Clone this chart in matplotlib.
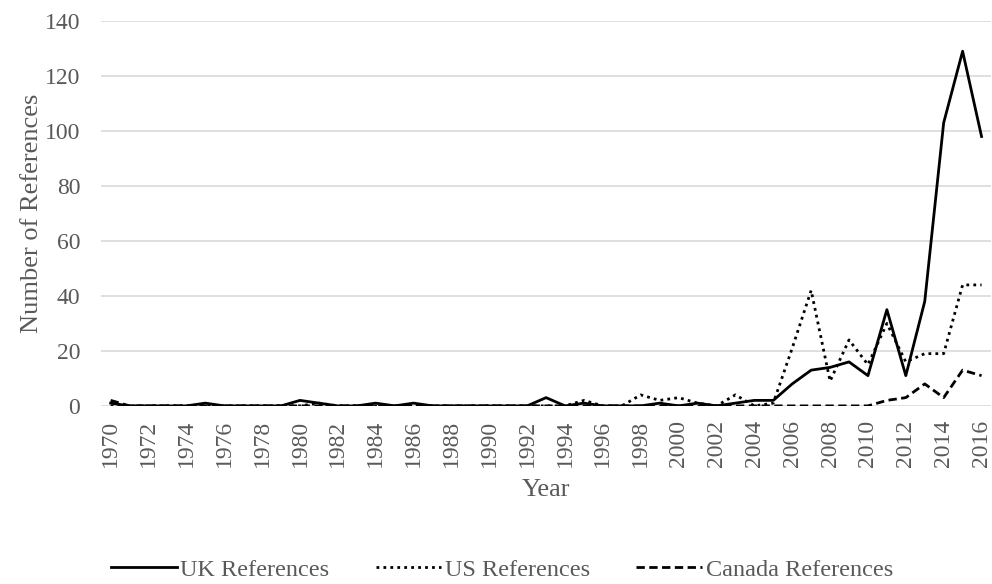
#!/usr/bin/env python3
"""
Plot yearly reference counts (UK / US / Canada), 1970-2016.

Single line chart in an Excel-like style: light horizontal grid,
serif fonts, legend underneath the axes.
"""

import matplotlib.pyplot as plt

years = list(range(1970, 2017))

uk_refs = [
    1, 0, 0, 0, 0, 1, 0, 0, 0, 0,      # 1970-1979
    2, 1, 0, 0, 1, 0, 1, 0, 0, 0,      # 1980-1989
    0, 0, 0, 3, 0, 1, 0, 0, 0, 1,      # 1990-1999
    0, 1, 0, 1, 2, 2, 8, 13, 14, 16,   # 2000-2009
    11, 35, 11, 38, 103, 129, 98,      # 2010-2016
]

us_refs = [
    0, 0, 0, 0, 0, 0, 0, 0, 0, 0,      # 1970-1979
    0, 1, 0, 0, 0, 0, 0, 0, 0, 0,      # 1980-1989
    0, 0, 0, 0, 0, 2, 0, 0, 4, 2,      # 1990-1999
    3, 1, 0, 4, 0, 1, 21, 42, 9, 24,   # 2000-2009
    15, 30, 16, 19, 19, 44, 44,        # 2010-2016
]

canada_refs = [
    2, 0, 0, 0, 0, 0, 0, 0, 0, 0,      # 1970-1979
    0, 0, 0, 0, 0, 0, 0, 0, 0, 0,      # 1980-1989
    0, 0, 0, 0, 0, 0, 0, 0, 0, 0,      # 1990-1999
    0, 0, 0, 0, 0, 0, 0, 0, 0, 0,      # 2000-2009
    0, 2, 3, 8, 3, 13, 11,             # 2010-2016
]

series_labels = ["UK References", "US References", "Canada References"]
y_ticks = [0, 20, 40, 60, 80, 100, 120, 140]

TEXT_GREY = "#595959"
GRID_GREY = "#d9d9d9"

plt.rcParams["font.family"] = ["Liberation Serif", "DejaVu Serif"]

fig = plt.figure(figsize=(9.92, 5.84), dpi=100)
ax = fig.add_axes([0.102, 0.305, 0.897, 0.659])

# -------------------------
# Lines
# -------------------------
ax.plot(years, uk_refs, color="black", lw=2.0, ls="-", label=series_labels[0])
ax.plot(years, us_refs, color="black", lw=2.0, ls=(0, (1, 1.5)), label=series_labels[1])
ax.plot(years, canada_refs, color="black", lw=2.0, ls=(0, (3, 1.6)), label=series_labels[2])

# -------------------------
# Axes styling
# -------------------------
ax.set_xlim(years[0] - 0.5, years[-1] + 0.5)
ax.set_ylim(0, 140)
ax.set_yticks(y_ticks)
ax.set_xticks(years[::2])
ax.set_xticklabels([str(y) for y in years[::2]], rotation=90)

ax.grid(axis="y", color=GRID_GREY, lw=1.2)
ax.set_axisbelow(True)
for side in ["top", "right", "left", "bottom"]:
    ax.spines[side].set_visible(False)

ax.tick_params(axis="both", length=0, colors=TEXT_GREY, labelsize=17)
ax.tick_params(axis="y", pad=15)
ax.tick_params(axis="x", pad=10)

ax.set_xlabel("Year", color=TEXT_GREY, fontsize=19)
ax.set_ylabel("Number of References", color=TEXT_GREY, fontsize=19)
ax.xaxis.set_label_coords(0.5, -0.19)
ax.yaxis.set_label_coords(-0.065, 0.5)

leg = fig.legend(
    loc="center",
    bbox_to_anchor=(0.506, 0.024),
    ncol=3,
    frameon=False,
    fontsize=17.5,
    handlelength=2.7,
    columnspacing=1.9,
    handletextpad=0.15,
)
for text in leg.get_texts():
    text.set_color(TEXT_GREY)

fig.savefig("out.png", dpi=100)
